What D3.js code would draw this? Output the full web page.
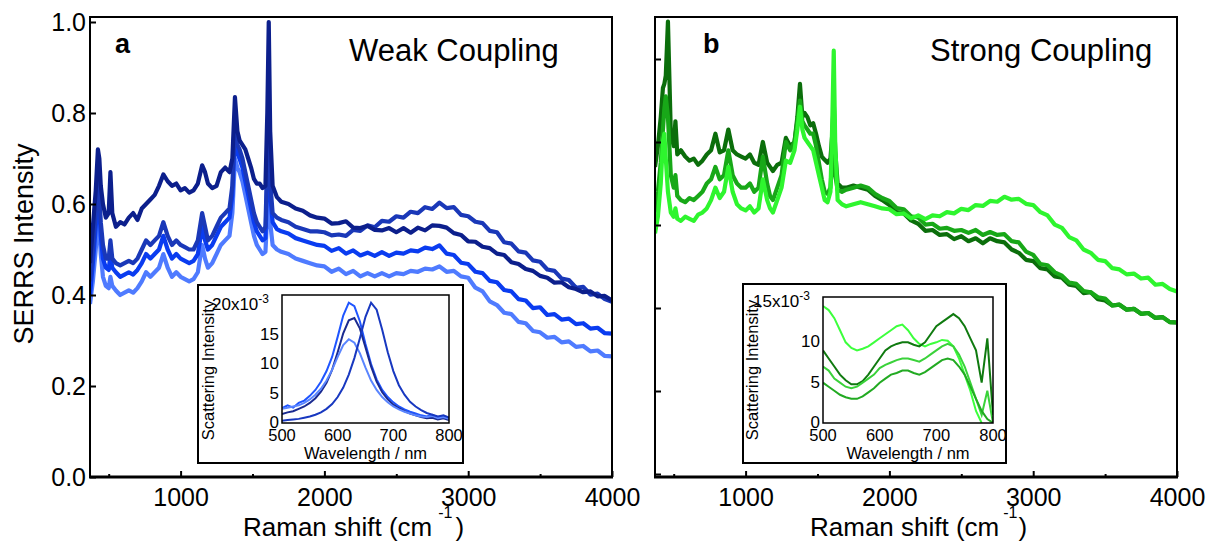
<!DOCTYPE html>
<html>
<head>
<meta charset="utf-8">
<script src="https://cdn.jsdelivr.net/npm/d3@7"></script>
<style>
body { margin: 0; background: #fff; }
svg text { font-family: "Liberation Sans", Arial, sans-serif; fill: #000; }
</style>
</head>
<body>
<svg id="chart" width="1207" height="545"></svg>
<script>
// Raman shift grid (cm-1), shared by every main spectrum
var ramanShift = [370,390,410,425,435,445,460,480,500,512,
  525,550,580,610,640,670,700,730,760,790,
  820,850,880,910,940,970,1000,1030,1060,1090,
  1120,1150,1170,1190,1220,1250,1280,1310,1340,1360,
  1378,1395,1410,1430,1450,1470,1490,1510,1530,1550,
  1570,1590,1603,1613,1623,1640,1670,1700,1750,1800,
  1850,1900,1950,
  2000,2050,2100,2150,2200,2250,2300,2350,2400,2450,
  2500,2550,2600,2650,2700,2750,2800,2850,2900,2950,
  3000,3050,3100,3150,3200,3250,3300,3350,3400,3450,
  3500,3550,3600,3650,3700,3750,3800,3850,3900,3950,
  4000];

// panel a - weak coupling
var weak1 = [0.47,0.55,0.63,0.72,0.70,0.64,0.60,0.57,0.58,0.67,
  0.58,0.55,0.56,0.555,0.57,0.58,0.565,0.59,0.60,0.61,
  0.62,0.64,0.665,0.65,0.64,0.645,0.63,0.635,0.625,0.63,
  0.645,0.685,0.67,0.645,0.635,0.64,0.67,0.68,0.67,0.70,
  0.835,0.76,0.74,0.73,0.72,0.70,0.68,0.655,0.645,0.645,
  0.635,0.64,0.80,1.00,0.76,0.64,0.615,0.605,0.60,0.59,
  0.585,0.575,0.57,
  0.568,0.557,0.558,0.562,0.548,0.547,0.552,0.543,0.542,0.547,
  0.538,0.547,0.537,0.548,0.542,0.553,0.552,0.548,0.536,0.532,
  0.518,0.517,0.506,0.503,0.491,0.488,0.472,0.468,0.457,0.453,
  0.442,0.438,0.427,0.428,0.417,0.413,0.406,0.408,0.397,0.398,
  0.388];
var weak2 = [0.43,0.50,0.58,0.65,0.62,0.56,0.51,0.48,0.48,0.52,
  0.48,0.47,0.465,0.47,0.475,0.47,0.48,0.50,0.52,0.51,
  0.52,0.53,0.56,0.53,0.51,0.52,0.51,0.505,0.50,0.50,
  0.52,0.58,0.55,0.52,0.53,0.55,0.57,0.58,0.59,0.64,
  0.78,0.73,0.72,0.70,0.67,0.64,0.61,0.58,0.56,0.55,
  0.54,0.55,0.70,0.80,0.65,0.58,0.57,0.565,0.56,0.55,
  0.545,0.54,0.54,
  0.538,0.531,0.533,0.530,0.543,0.541,0.553,0.549,0.563,0.561,
  0.573,0.570,0.583,0.580,0.593,0.589,0.603,0.591,0.593,0.576,
  0.573,0.561,0.558,0.541,0.538,0.516,0.513,0.496,0.493,0.476,
  0.473,0.456,0.453,0.436,0.433,0.416,0.418,0.401,0.403,0.391,
  0.385];
var weak3 = [0.40,0.47,0.55,0.62,0.59,0.53,0.48,0.46,0.455,0.49,
  0.46,0.45,0.44,0.445,0.45,0.445,0.455,0.47,0.49,0.48,
  0.49,0.50,0.53,0.50,0.48,0.49,0.48,0.475,0.47,0.475,
  0.49,0.55,0.52,0.50,0.51,0.53,0.55,0.56,0.57,0.62,
  0.76,0.71,0.70,0.68,0.65,0.62,0.59,0.56,0.54,0.53,
  0.52,0.525,0.66,0.76,0.62,0.56,0.545,0.54,0.535,0.525,
  0.52,0.515,0.51,
  0.508,0.497,0.503,0.491,0.498,0.487,0.493,0.486,0.494,0.486,
  0.493,0.491,0.498,0.496,0.504,0.501,0.509,0.491,0.488,0.471,
  0.468,0.451,0.448,0.431,0.428,0.411,0.408,0.391,0.388,0.371,
  0.373,0.356,0.358,0.346,0.348,0.336,0.338,0.326,0.328,0.316,
  0.315];
var weak4 = [0.38,0.43,0.50,0.57,0.55,0.49,0.44,0.42,0.415,0.44,
  0.42,0.41,0.40,0.405,0.41,0.405,0.415,0.43,0.45,0.44,
  0.45,0.46,0.49,0.46,0.44,0.45,0.44,0.435,0.43,0.435,
  0.45,0.51,0.48,0.46,0.47,0.49,0.51,0.52,0.53,0.58,
  0.70,0.68,0.67,0.65,0.62,0.59,0.56,0.53,0.51,0.50,
  0.49,0.495,0.58,0.66,0.56,0.51,0.50,0.495,0.49,0.48,
  0.475,0.47,0.465,
  0.463,0.451,0.458,0.446,0.453,0.441,0.448,0.441,0.448,0.441,
  0.448,0.446,0.453,0.451,0.458,0.456,0.463,0.451,0.453,0.441,
  0.438,0.416,0.408,0.386,0.378,0.361,0.358,0.341,0.338,0.321,
  0.318,0.306,0.308,0.296,0.298,0.286,0.288,0.276,0.278,0.266,
  0.265];

// panel b - strong coupling
var strong1 = [0.74,0.79,0.86,0.93,0.94,0.96,1.09,0.82,0.79,0.85,
  0.77,0.78,0.765,0.755,0.76,0.745,0.755,0.77,0.78,0.82,
  0.775,0.78,0.83,0.78,0.77,0.765,0.76,0.77,0.75,0.745,
  0.80,0.75,0.74,0.73,0.745,0.75,0.81,0.79,0.80,0.86,
  0.94,0.86,0.87,0.86,0.84,0.845,0.82,0.79,0.765,0.757,
  0.75,0.76,0.82,0.90,0.78,0.70,0.69,0.69,0.695,0.69,
  0.685,0.67,0.66,
  0.648,0.631,0.628,0.611,0.603,0.586,0.588,0.576,0.578,0.566,
  0.573,0.561,0.568,0.556,0.568,0.561,0.558,0.541,0.533,0.516,
  0.513,0.496,0.493,0.476,0.473,0.456,0.453,0.436,0.438,0.421,
  0.418,0.406,0.408,0.396,0.398,0.386,0.388,0.376,0.378,0.366,
  0.365];
var strong2 = [0.63,0.68,0.75,0.83,0.88,0.91,0.86,0.72,0.69,0.72,
  0.67,0.66,0.655,0.665,0.66,0.67,0.68,0.70,0.71,0.74,
  0.71,0.72,0.78,0.72,0.70,0.69,0.69,0.70,0.68,0.69,
  0.765,0.70,0.67,0.66,0.69,0.72,0.80,0.78,0.80,0.85,
  0.90,0.85,0.84,0.83,0.82,0.82,0.79,0.75,0.71,0.68,
  0.675,0.69,0.76,0.82,0.72,0.685,0.68,0.685,0.69,0.695,
  0.69,0.675,0.665,
  0.658,0.641,0.638,0.621,0.618,0.601,0.603,0.591,0.593,0.586,
  0.588,0.581,0.588,0.576,0.583,0.576,0.578,0.561,0.558,0.536,
  0.528,0.506,0.503,0.486,0.478,0.461,0.458,0.441,0.438,0.426,
  0.423,0.406,0.408,0.396,0.398,0.386,0.388,0.376,0.378,0.366,
  0.365];
var strong3 = [0.58,0.62,0.70,0.80,0.82,0.76,0.68,0.63,0.62,0.64,
  0.615,0.61,0.62,0.615,0.61,0.625,0.63,0.64,0.66,0.69,
  0.665,0.68,0.74,0.68,0.65,0.64,0.635,0.645,0.63,0.64,
  0.71,0.66,0.64,0.63,0.66,0.69,0.755,0.75,0.78,0.83,
  0.885,0.83,0.81,0.80,0.79,0.78,0.75,0.72,0.69,0.66,
  0.655,0.68,0.85,1.02,0.80,0.66,0.65,0.645,0.65,0.655,
  0.65,0.645,0.64,
  0.638,0.626,0.628,0.616,0.623,0.614,0.623,0.621,0.631,0.628,
  0.639,0.636,0.648,0.646,0.658,0.656,0.668,0.661,0.663,0.651,
  0.648,0.631,0.623,0.601,0.593,0.571,0.563,0.541,0.533,0.516,
  0.513,0.496,0.493,0.481,0.483,0.471,0.473,0.456,0.458,0.446,
  0.44];

// insets: dark-field scattering spectra (x10^-3)
var wavelength = [500,510,520,530,540,550,560,570,580,590,600,610,620,630,640,650,
  660,670,680,690,700,710,720,730,740,750,760,770,780,790,800];
var weakScat1 = [2.5,3.0,2.6,3.4,3.8,4.6,5.6,7.0,8.8,11.2,14.6,18.2,20.4,19.8,17.2,13.4,
  10.0,7.4,5.6,4.4,3.5,2.8,2.3,1.9,1.6,1.3,1.1,1.4,0.9,1.1,0.8];
var weakScat2 = [1.5,1.8,2.0,2.4,2.8,3.4,4.2,5.3,6.8,9.0,12.0,15.2,17.4,17.8,16.0,12.8,
  9.6,7.0,5.2,4.0,3.1,2.5,2.0,1.6,1.3,1.0,0.8,0.9,0.6,0.8,0.5];
var weakScat3 = [2.4,2.6,2.8,3.0,3.4,4.0,4.8,5.8,7.2,9.0,11.2,13.2,14.2,13.6,11.8,9.4,
  7.2,5.6,4.4,3.5,2.8,2.3,1.9,1.6,1.3,1.1,1.0,1.2,0.8,1.0,0.7];
var weakScat4 = [0.4,0.5,0.6,0.7,0.9,1.1,1.4,1.8,2.4,3.2,4.4,6.0,8.2,11.0,14.4,18.0,
  20.4,19.2,15.8,12.0,8.8,6.4,4.8,3.6,2.8,2.2,1.7,1.4,1.1,1.3,0.9];
var strongScat1 = [14.5,14.0,13.0,11.5,10.0,9.3,9.0,9.2,9.5,10.0,10.5,11.0,11.5,12.0,12.2,11.5,
  10.5,9.8,9.5,9.8,10.0,10.3,10.2,9.5,8.0,6.0,4.0,1.5,0.0,null,null];
var strongScat2 = [9.0,8.0,7.0,6.0,5.3,4.8,4.8,5.2,6.0,7.0,8.0,9.0,9.5,9.8,10.0,10.0,
  9.7,9.5,10.0,11.0,12.0,12.5,13.0,13.5,13.0,12.0,10.5,9.0,5.0,10.5,1.0];
var strongScat3 = [7.0,6.5,5.5,5.0,4.5,4.3,4.5,5.0,5.5,6.0,6.8,7.2,7.5,7.8,8.0,8.0,
  7.8,7.6,8.0,8.5,9.0,9.5,9.8,9.5,8.5,7.0,5.0,3.0,1.0,4.0,0.0];
var strongScat4 = [5.0,4.5,4.0,3.5,3.2,3.0,3.0,3.3,3.8,4.3,5.0,5.5,6.0,6.2,6.5,6.5,
  6.2,6.0,6.3,6.8,7.3,7.8,8.0,7.8,7.0,6.0,4.5,3.0,1.5,0.5,0.0];

var weakColors = ["#4f7bff", "#0a3cf0", "#1a38b8", "#0c1f8c"];
var strongColors = ["#0b6e0b", "#18a818", "#2ef52e"];
var weakScatColors = ["#1f55ff", "#1a2a90", "#5a85ff", "#1838c0"];
var strongScatColors = ["#3cff3c", "#0f7a0f", "#3ad23a", "#22aa22"];

var yTicksA = [0, 0.2, 0.4, 0.6, 0.8, 1.0];
var xMajor = [1000, 2000, 3000, 4000];
var xMinor = [500, 1500, 2500, 3500];
var insetXTicks = [500, 600, 700, 800];
var weakInsetYTicks = [0, 5, 10, 15, 20];
var strongInsetYTicks = [0, 5, 10, 15];

var svg = d3.select("#chart");
var fontFam = "Liberation Sans, Arial, sans-serif";

function drawPanel(opts) {
  var x = opts.x, y = opts.y;
  var x0 = x.range()[0], x1 = x.range()[1];
  var clipId = opts.id + "-clip";
  svg.append("clipPath").attr("id", clipId)
    .append("rect").attr("x", x0).attr("y", 17).attr("width", x1 - x0).attr("height", 460);

  var line = d3.line()
    .x(function(d, i) { return x(ramanShift[i]); })
    .y(function(d) { return y(d); });

  var g = svg.append("g").attr("clip-path", "url(#" + clipId + ")");
  opts.series.forEach(function(s, k) {
    g.append("path").attr("d", line(s))
      .attr("fill", "none").attr("stroke", opts.colors[k])
      .attr("stroke-width", 4.2).attr("stroke-linejoin", "round");
  });

  // bottom axis, ticks pointing in
  var bx = svg.append("g").attr("transform", "translate(0,477)")
    .call(d3.axisBottom(x).tickValues(xMajor).tickSize(-6).tickPadding(11).tickFormat(d3.format("d")));
  bx.select(".domain").remove();
  bx.attr("font-size", 25).attr("font-family", fontFam);
  bx.selectAll("line").attr("stroke", "#000").attr("stroke-width", 2);
  bx.selectAll("text").attr("fill", "#000");
  svg.append("g").attr("transform", "translate(0,477)")
    .call(d3.axisBottom(x).tickValues(xMinor).tickSize(-3).tickFormat(""))
    .call(function(a) { a.select(".domain").remove(); a.selectAll("line").attr("stroke", "#000").attr("stroke-width", 2); });

  // left axis
  var ly = svg.append("g").attr("transform", "translate(" + x0 + ",0)")
    .call(d3.axisLeft(y).tickValues(yTicksA).tickSize(-6).tickPadding(4)
      .tickFormat(opts.yLabels ? d3.format(".1f") : ""));
  ly.select(".domain").remove();
  ly.attr("font-size", 25).attr("font-family", fontFam);
  ly.selectAll("line").attr("stroke", "#000").attr("stroke-width", 2);
  ly.selectAll("text").attr("fill", "#000");

  // frame
  svg.append("rect").attr("x", x0).attr("y", 17).attr("width", x1 - x0).attr("height", 460)
    .attr("fill", "none").attr("stroke", "#000").attr("stroke-width", 2);
  svg.append("line").attr("x1", x0 - 1).attr("x2", x1 + 1).attr("y1", 477).attr("y2", 477)
    .attr("stroke", "#000").attr("stroke-width", 3);

  svg.append("text").attr("x", opts.letterX).attr("y", 53)
    .attr("font-size", 27).attr("font-weight", "bold").text(opts.letter);
  svg.append("text").attr("x", opts.titleX).attr("y", 61)
    .attr("font-size", 31).text(opts.title);

  var xt = svg.append("text").attr("x", opts.xLabelX).attr("y", 536).attr("font-size", 26);
  xt.append("tspan").text("Raman shift (cm");
  xt.append("tspan").attr("font-size", 16).attr("dy", -18).attr("dx", opts.supDx).text("-1");
  xt.append("tspan").attr("dy", 18).attr("dx", opts.parDx).text(")");
}

function drawInset(opts) {
  var b = opts.box;
  svg.append("rect").attr("x", b[0]).attr("y", b[1]).attr("width", b[2]).attr("height", b[3])
    .attr("fill", "#fff").attr("stroke", "#000").attr("stroke-width", 2);

  var x = opts.x, y = opts.y;
  var px0 = x.range()[0], px1 = x.range()[1];
  var py0 = y.range()[1] - opts.topPad, py1 = y.range()[0];
  var clipId = opts.id + "-clip";
  svg.append("clipPath").attr("id", clipId)
    .append("rect").attr("x", px0).attr("y", py0).attr("width", px1 - px0).attr("height", py1 - py0);

  var line = d3.line()
    .defined(function(d) { return d != null; })
    .x(function(d, i) { return x(wavelength[i]); })
    .y(function(d) { return y(d); });

  var g = svg.append("g").attr("clip-path", "url(#" + clipId + ")");
  opts.series.forEach(function(s, k) {
    g.append("path").attr("d", line(s))
      .attr("fill", "none").attr("stroke", opts.colors[k]).attr("stroke-width", 2);
  });

  svg.append("rect").attr("x", px0).attr("y", py0).attr("width", px1 - px0).attr("height", py1 - py0)
    .attr("fill", "none").attr("stroke", "#000").attr("stroke-width", 1.5);

  // tick labels
  svg.selectAll(null).data(insetXTicks).enter().append("text")
    .attr("x", function(d) { return x(d); }).attr("y", opts.xLabelY)
    .attr("text-anchor", "middle").attr("font-size", 16.5).text(function(d) { return d; });
  var yl = svg.selectAll(null).data(opts.yTicks).enter().append("text")
    .attr("x", px0 - 3).attr("y", function(d) { return y(d); })
    .attr("dy", "0.3em").attr("text-anchor", "end").attr("font-size", 17);
  yl.each(function(d, i) {
    var t = d3.select(this);
    if (i == opts.yTicks.length - 1) {
      t.attr("x", px0 - 13).text(d + "x10");
      t.append("tspan").attr("font-size", 12).attr("dy", -7).text("-3");
    } else {
      t.text(d);
    }
  });

  svg.append("text").attr("x", (px0 + px1) / 2).attr("y", opts.titleY)
    .attr("text-anchor", "middle").attr("font-size", 16.5).text("Wavelength / nm");
  svg.append("text").attr("transform", "translate(" + opts.yTitleX + "," + opts.yTitleY + ") rotate(-90)")
    .attr("text-anchor", "middle").attr("font-size", 16.5).text("Scattering Intensity");
}

// panel a
drawPanel({
  id: "a",
  x: d3.scaleLinear().domain([370, 4000]).range([90, 612]),
  y: d3.scaleLinear().domain([0, 1]).range([477, 22]),
  series: [weak4, weak3, weak2, weak1],
  colors: weakColors,
  yLabels: true,
  letter: "a", letterX: 115,
  title: "Weak Coupling", titleX: 349,
  xLabelX: 243, supDx: 6, parDx: 3
});

svg.append("text").attr("transform", "translate(33,244) rotate(-90)")
  .attr("text-anchor", "middle").attr("font-size", 27).text("SERRS Intensity");

// panel b
drawPanel({
  id: "b",
  x: d3.scaleLinear().domain([370, 4000]).range([655, 1177]),
  y: d3.scaleLinear().domain([0, 1]).range([474, 59]),
  series: [strong1, strong2, strong3],
  colors: strongColors,
  yLabels: false,
  letter: "b", letterX: 703,
  title: "Strong Coupling", titleX: 930,
  xLabelX: 810, supDx: 4, parDx: 1
});

drawInset({
  id: "ia",
  box: [198, 285, 265, 178],
  x: d3.scaleLinear().domain([500, 800]).range([282, 449]),
  y: d3.scaleLinear().domain([0, 20]).range([423, 305]),
  topPad: 10,
  series: [weakScat1, weakScat2, weakScat3, weakScat4],
  colors: weakScatColors,
  yTicks: weakInsetYTicks,
  xLabelY: 441, titleY: 459, yTitleX: 214, yTitleY: 370
});

drawInset({
  id: "ib",
  box: [743, 284, 263, 179],
  x: d3.scaleLinear().domain([500, 800]).range([823, 993]),
  y: d3.scaleLinear().domain([0, 15]).range([423, 302]),
  topPad: 5,
  series: [strongScat1, strongScat2, strongScat3, strongScat4],
  colors: strongScatColors,
  yTicks: strongInsetYTicks,
  xLabelY: 441, titleY: 459, yTitleX: 758, yTitleY: 370
});
</script>
</body>
</html>
